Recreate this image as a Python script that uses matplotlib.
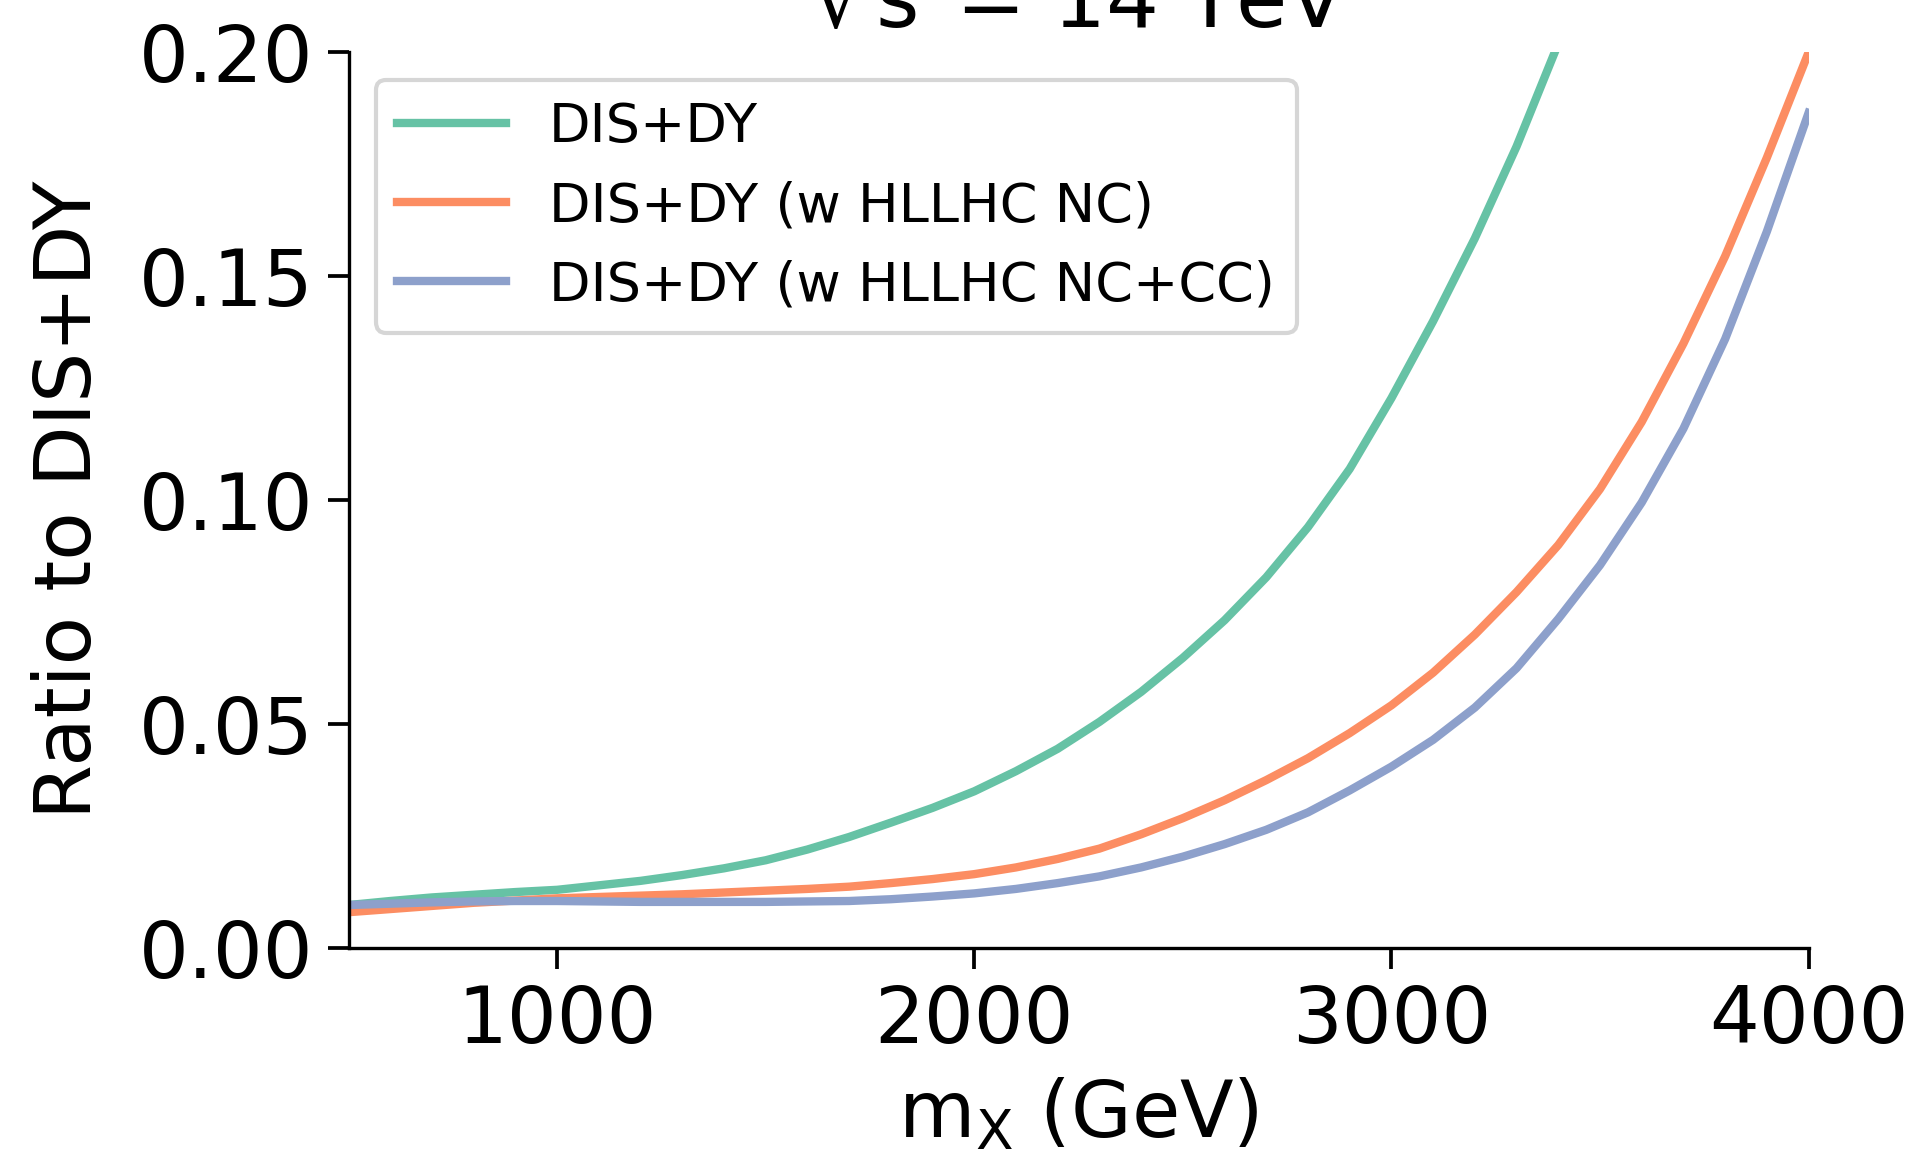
import numpy as np
import matplotlib
matplotlib.use('Agg')
import matplotlib.pyplot as plt

# masses (GeV) and ratios
mass = [500, 600, 700, 800, 900, 1000, 1100, 1200, 1300, 1400, 1500, 1600,
        1700, 1800, 1900, 2000, 2100, 2200, 2300, 2400, 2500, 2600, 2700, 2800,
        2900, 3000, 3100, 3200, 3300, 3400, 3500, 3600, 3700, 3800, 3900, 4000]

ratio_dis_dy = [0.0096, 0.0105, 0.0113, 0.0119, 0.0125, 0.0130, 0.0140, 0.0150,
                0.0163, 0.0178, 0.0196, 0.0220, 0.0248, 0.0280, 0.0313, 0.0350,
                0.0395, 0.0445, 0.0505, 0.0572, 0.0648, 0.0732, 0.0828, 0.0940,
                0.1070, 0.1228, 0.1400, 0.1585, 0.1790, 0.2020, 0.2280, 0.2570,
                0.2880, 0.3220, 0.3600, 0.4000]

ratio_nc = [0.0080, 0.0087, 0.0094, 0.0101, 0.0106, 0.0111, 0.0114, 0.0117,
            0.0120, 0.0124, 0.0128, 0.0132, 0.0137, 0.0145, 0.0154, 0.0165,
            0.0180, 0.0199, 0.0222, 0.0254, 0.0290, 0.0330, 0.0375, 0.0424,
            0.0480, 0.0542, 0.0615, 0.0700, 0.0795, 0.0900, 0.1025, 0.1175,
            0.1350, 0.1545, 0.1765, 0.2000]

ratio_nc_cc = [0.0096, 0.0099, 0.0102, 0.0104, 0.0105, 0.0105, 0.0104, 0.0103,
               0.0103, 0.0103, 0.0103, 0.0104, 0.0105, 0.0109, 0.0115, 0.0122,
               0.0132, 0.0145, 0.0160, 0.0180, 0.0204, 0.0232, 0.0264, 0.0303,
               0.0352, 0.0405, 0.0465, 0.0537, 0.0625, 0.0735, 0.0855, 0.0995,
               0.1160, 0.1360, 0.1600, 0.1865]

labels = ['DIS+DY', 'DIS+DY (w HLLHC NC)', 'DIS+DY (w HLLHC NC+CC)']
colors = ['#66c2a5', '#fc8d62', '#8da0cb']  # Set2

fig = plt.figure(figsize=(6.37, 3.85), dpi=300)
ax = fig.add_axes([0.1824, 0.1792, 0.764, 0.7754])

for y, lab, c in zip([ratio_dis_dy, ratio_nc, ratio_nc_cc], labels, colors):
    ax.plot(mass, y, color=c, lw=2.0, label=lab)

ax.set_xlim(500, 4000)
ax.set_ylim(0, 0.2)
ax.set_xticks([1000, 2000, 3000, 4000])
ax.set_yticks([0.0, 0.05, 0.10, 0.15, 0.20])
ax.set_yticklabels(['0.00', '0.05', '0.10', '0.15', '0.20'])
ax.tick_params(labelsize=18.8, length=5, width=0.9)

ax.spines['top'].set_visible(False)
ax.spines['right'].set_visible(False)

ax.set_xlabel(r'$\mathrm{m_X}$ (GeV)', fontsize=18.8)
ax.set_ylabel('Ratio to DIS+DY', fontsize=19, labelpad=7.5)
ax.set_title(r'$\sqrt{\mathrm{s}}$ = 14 TeV', fontsize=20)

ax.legend(loc='upper left', fontsize=13)

fig.savefig('out.png', dpi=300)
